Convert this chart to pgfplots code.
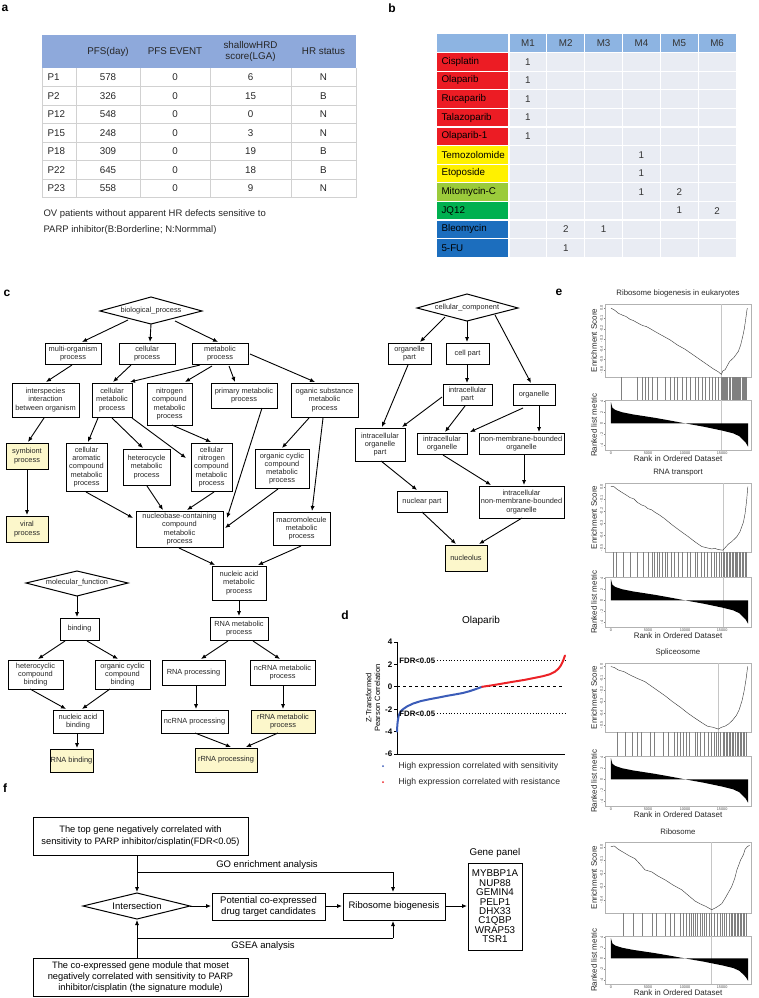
\documentclass[border=0pt]{standalone}
\usepackage{fontspec}
\setmainfont{Liberation Sans}
\usepackage{pgfplots}
\pgfplotsset{compat=1.18}
\usetikzlibrary{arrows.meta}
\definecolor{hdrA}{HTML}{8EA9DB}
\definecolor{hdrB}{HTML}{8DB4E2}
\definecolor{cellB}{HTML}{E9ECF3}
\definecolor{dred}{HTML}{EC1C24}
\definecolor{dyel}{HTML}{FFF100}
\definecolor{dlgr}{HTML}{9BCB3B}
\definecolor{dgrn}{HTML}{00B050}
\definecolor{dblu}{HTML}{1C6EBE}
\definecolor{goy}{HTML}{FCF7CB}
\definecolor{zblue}{HTML}{3B5CB8}
\definecolor{zred}{HTML}{EC2227}
\newcommand{\fs}[2]{\fontsize{#1}{#2}\selectfont}
\newcommand{\gofont}{\fs{7.4}{8.2}}
\newcommand{\gobox}[6][white]{%
 \draw[line width=1pt, fill=#1] (#2,-#3) rectangle (#4,-#5);
 \node[font=\gofont, align=center, inner sep=0pt, text=black!85] at ({(#2+#4)/2},{-(#3+#5)/2}) {#6};}
\newcommand{\arr}[4]{\draw[-{Latex[length=5pt,width=4.2pt]}, line width=0.9pt] (#1,-#2) -- (#3,-#4);}
\pgfplotsset{every axis/.append style={/pgf/number format/assume math mode=true},
 esax/.style={scale only axis, width=146pt, xmin=-800, xmax=18900, anchor=north west,
   axis line style={black!30, line width=0.5pt}, xtick=\empty, tick style={black!50, line width=0.3pt},
   major tick length=1.2pt, tick align=outside, tick pos=left,
   yticklabel style={rotate=90, anchor=south, font=\fs{3.8}{4}, text=black!70, inner sep=0.6pt},
   ylabel style={at={(axis description cs:-0.075,0.5)}, anchor=center, font=\fs{8}{9}, text=black!85},
   title style={at={(axis description cs:0.5,1)}, anchor=south, font=\fs{7.8}{9}, text=black!85, inner sep=1pt}},
 hitax/.style={scale only axis, width=146pt, xmin=-800, xmax=18900, ymin=0, ymax=1, anchor=north west, hide axis},
 rkax/.style={scale only axis, width=146pt, xmin=-800, xmax=18900, anchor=north west, height=50pt,
   ymin=-4.8, ymax=4.2, ytick={-4,-2,0,2,4}, yticklabels={-4,-2,0,2,4},
   xtick={0,5000,10000,15000}, xticklabels={0,5000,10000,15000}, scaled x ticks=false,
   axis line style={black!30, line width=0.5pt}, tick style={black!50, line width=0.3pt},
   major tick length=1.2pt, tick align=outside, tick pos=left,
   yticklabel style={rotate=90, anchor=south, font=\fs{3.8}{4}, text=black!70, inner sep=0.6pt},
   xticklabel style={font=\fs{3.8}{4}, text=black!70, inner sep=0.6pt},
   ylabel={Ranked list metric}, xlabel={Rank in Ordered Dataset},
   ylabel style={at={(axis description cs:-0.075,0.5)}, anchor=center, font=\fs{8}{9}, text=black!85},
   xlabel style={at={(axis description cs:0.5,-0.17)}, anchor=center, font=\fs{8}{9}, text=black!85}},
 hitln/.style={ycomb, black!50, line width=0.35pt},
}
\begin{document}
\begin{tikzpicture}[x=1pt,y=1pt]
\path[use as bounding box] (0,0) rectangle (758,-998);
% panel letters
\begin{scope}[font=\bfseries\fs{12}{12}]
\node at (5,-8) {a};
\node at (392,-8) {b};
\node at (7,-293) {c};
\node at (345,-615) {d};
\node at (559,-292) {e};
\node at (5,-788) {f};
\end{scope}
% ---------------- panel a ----------------
\fill[hdrA] (42,-35) rectangle (356,-68);
\foreach \yy in {86.5,105,123.5,142,160.5,179,197.5} \draw[black!18, line width=0.6pt] (42,-\yy) -- (356,-\yy);
\foreach \xx in {42,76,140,210,291,356} \draw[black!18, line width=0.6pt] (\xx,-68) -- (\xx,-197.5);
\begin{scope}[font=\fs{9.8}{11}, text=black!85]
\node at (108,-51.5) {PFS(day)};
\node at (175,-51.5) {PFS EVENT};
\node[align=center] at (250.5,-51.5) {shallowHRD\\score(LGA)};
\node at (323.5,-51.5) {HR status};
\foreach \qp/\qa/\qb/\qc/\qd [count=\i] in {P1/578/0/6/N,P2/326/0/15/B,P12/548/0/0/N,P15/248/0/3/N,P18/309/0/19/B,P22/645/0/18/B,P23/558/0/9/N}{
  \pgfmathsetmacro{\yy}{-68-18.5*\i+9.25}
  \node[anchor=west] at (44,\yy) {\qp};
  \node at (108,\yy) {\qa};
  \node at (175,\yy) {\qb};
  \node at (250.5,\yy) {\qc};
  \node at (323.5,\yy) {\qd};
}
\end{scope}
\node[anchor=west, font=\fs{9.5}{11}, text=black!85] at (40,-214) {OV patients without apparent HR defects sensitive to};
\node[anchor=west, font=\fs{9.5}{11}, text=black!85] at (40,-230) {PARP inhibitor(B:Borderline; N:Normmal)};
% ---------------- panel b ----------------
\fill[hdrB] (437,-34.5) rectangle (736,-52.5);
\foreach \dn/\dc [count=\i] in {Cisplatin/dred,Olaparib/dred,Rucaparib/dred,Talazoparib/dred,Olaparib-1/dred,Temozolomide/dyel,Etoposide/dyel,Mitomycin-C/dlgr,JQ12/dgrn,Bleomycin/dblu,5-FU/dblu}{
  \pgfmathsetmacro{\ya}{-52.5-18.6*(\i-1)}
  \pgfmathsetmacro{\yb}{\ya-18.6}
  \pgfmathsetmacro{\ym}{\ya-9.3}
  \fill[\dc] (437,\ya) rectangle (509,\yb);
  \fill[cellB] (509,\ya) rectangle (736,\yb);
  \node[anchor=west, font=\fs{9.8}{11}] at (438,\ym) {\dn};
}
\foreach \xx in {509,546.8,584.7,622.5,660.3,698.2} \draw[white, line width=1.2pt] (\xx,-34.5) -- (\xx,-257.1);
\foreach \k in {0,...,10} {\pgfmathsetmacro{\yy}{-52.5-18.6*\k} \draw[white, line width=1.2pt] (437,\yy) -- (736,\yy);}
\begin{scope}[font=\fs{9.8}{11}, text=black!80]
\foreach \k in {1,...,6} {\pgfmathsetmacro{\xx}{509+37.83*(\k-0.5)} \node at (\xx,-43.5) {M\k};}
\foreach \mc/\mr/\mt in {1/1/1,1/2/1,1/3/1,1/4/1,1/5/1,4/6/1,4/7/1,4/8/1,5/8/2,5/9/1,6/9/2,2/10/2,3/10/1,2/11/1}{
  \pgfmathsetmacro{\xx}{509+37.83*(\mc-0.5)}
  \pgfmathsetmacro{\yy}{-52.5-18.6*(\mr-0.5)}
  \node at (\xx,\yy) {\mt};
}
\end{scope}
% ---------------- panel c ----------------
\draw[line width=1pt, fill=white] (100,-311) -- (151,-297) -- (202,-311) -- (151,-324) -- cycle;
\node[font=\gofont, text=black!85] at (151,-311) {biological\_process};
\gobox{45}{343}{101}{364}{multi-organism\\process}
\gobox{119}{343}{175}{364}{cellular\\process}
\gobox{192}{343}{248}{364}{metabolic\\process}
\gobox{12}{383}{79}{417}{interspecies\\interaction\\between organism}
\gobox{92}{383}{132}{417}{cellular\\metabolic\\process}
\gobox{147}{383}{192}{425}{nitrogen\\compound\\metabolic\\process}
\gobox{211}{383}{277}{408}{primary metabolic\\process}
\gobox{291}{383}{358}{417}{oganic substance\\metabolic\\process}
\gobox[goy]{6}{443}{48}{469}{symbiont\\process}
\gobox[goy]{6}{516}{48}{542}{viral\\process}
\gobox{66}{443}{107}{491}{cellular\\aromatic\\compound\\metabolic\\process}
\gobox{123}{449}{170}{485}{heterocycle\\metabolic\\process}
\gobox{191}{443}{232}{491}{cellular\\nitrogen\\compound\\metabolic\\process}
\gobox{255}{449}{309}{488}{organic cyclic\\compound\\metabolic\\process}
\gobox{136}{511}{223}{547}{nucleobase-containing\\compound\\metabolic\\process}
\gobox{273}{512}{330}{545}{macromolecule\\metabolic\\process}
\gobox{212}{566}{266}{600}{nucleic acid\\metabolic\\process}
\gobox{210}{617}{268}{640}{RNA metabolic\\process}
\gobox{162}{660}{225}{685}{RNA processing}
\gobox{250}{660}{315}{685}{ncRNA metabolic\\process}
\gobox{161}{710}{228}{733}{ncRNA processing}
\gobox[goy]{251}{710}{315}{733}{rRNA metabolic\\process}
\gobox[goy]{195}{748}{257}{772}{rRNA processing}
\arr{128}{320}{82}{342}
\arr{151}{324}{150}{342}
\arr{175}{321}{218}{342}
\arr{72}{365}{46}{382}
\arr{131}{365}{113}{382}
\arr{200}{365}{130}{382}
\arr{212}{366}{185}{382}
\arr{229}{366}{235}{382}
\arr{250}{354}{315}{382}
\arr{44}{418}{28}{442}
\arr{27}{469}{27}{515}
\arr{98}{418}{88}{442}
\arr{112}{418}{143}{448}
\arr{132}{418}{186}{458}
\arr{172}{425}{211}{442}
\arr{262}{408}{227}{518}
\arr{309}{418}{282}{448}
\arr{323}{418}{312}{511}
\arr{86}{492}{133}{518}
\arr{147}{486}{163}{510}
\arr{214}{492}{187}{510}
\arr{278}{489}{225}{528}
\arr{179}{548}{215}{565}
\arr{301}{546}{258}{565}
\arr{239}{600}{239}{616}
\arr{228}{641}{201}{659}
\arr{253}{641}{280}{659}
\arr{196}{685}{196}{709}
\arr{283}{685}{283}{709}
\arr{195}{733}{231}{747}
\arr{278}{733}{246}{747}
% molecular function
\draw[line width=1pt, fill=white] (26,-583) -- (77,-571) -- (128,-583) -- (77,-596) -- cycle;
\node[font=\gofont, text=black!85] at (77,-583) {molecular\_function};
\gobox{60}{618}{99}{640}{binding}
\gobox{8}{660}{63}{689}{heterocyclic\\compound\\binding}
\gobox{95}{660}{150}{689}{organic cyclic\\compound\\binding}
\gobox{53}{710}{103}{733}{nucleic acid\\binding}
\gobox[goy]{50}{749}{93}{772}{RNA binding}
\arr{77}{596}{77}{617}
\arr{65}{641}{38}{659}
\arr{87}{641}{118}{659}
\arr{30}{689}{66}{709}
\arr{110}{689}{82}{709}
\arr{77}{733}{77}{748}
% cellular component
\draw[line width=1pt, fill=white] (417,-308) -- (467,-294) -- (518,-308) -- (467,-321) -- cycle;
\node[font=\gofont, text=black!85] at (467,-308) {cellular\_component};
\gobox{388}{343}{431}{364}{organelle\\part}
\gobox{446}{343}{489}{364}{cell part}
\gobox{443}{384}{492}{405}{intracellular\\part}
\gobox{513}{384}{555}{405}{organelle}
\gobox{355}{428}{405}{461}{intracellular\\organelle\\part}
\gobox{417}{433}{467}{454}{intracellular\\organelle}
\gobox{479}{433}{564}{454}{non-membrane-bounded\\organelle}
\gobox{397}{491}{447}{512}{nuclear part}
\gobox{479}{486}{564}{518}{intracellular\\non-membrane-bounded\\organelle}
\gobox[goy]{445}{545}{487}{571}{nucleolus}
\arr{445}{317}{420}{342}
\arr{467}{321}{467}{342}
\arr{495}{315}{531}{383}
\arr{467}{364}{467}{383}
\arr{408}{365}{382}{427}
\arr{442}{397}{402}{427}
\arr{465}{406}{445}{432}
\arr{523}{408}{470}{432}
\arr{539}{406}{539}{432}
\arr{381}{461}{417}{490}
\arr{443}{455}{491}{485}
\arr{524}{455}{524}{485}
\arr{422}{512}{456}{544}
\arr{522}{518}{479}{544}
% ---------------- panel d ----------------
\begin{axis}[at={(397pt,-754pt)}, anchor=south west, scale only axis, width=168pt, height=112pt,
  xmin=0, xmax=1000, ymin=-6, ymax=4, axis x line=bottom, axis y line=left,
  axis line style={-, line width=0.9pt}, xtick=\empty, ytick={-6,-4,-2,0,2,4},
  yticklabels={-6,-4,-2,0,2,4}, tick align=outside, major tick length=3pt,
  tick style={line width=0.9pt, black}, yticklabel style={font=\bfseries\fs{8}{9}, inner sep=1.5pt},
  ylabel={Z-Transformed\\Pearson Correlation},
  ylabel style={align=center, font=\fs{7.6}{8.8}, at={(axis description cs:-0.143,0.5)}, anchor=center},
  title={Olaparib}, title style={at={(axis description cs:0.5,1.134)}, anchor=center, font=\fs{10}{11}},
  clip=false]
\addplot[black, dashed, line width=1pt] coordinates {(0,0)(1000,0)};
\addplot[black, dotted, line width=0.9pt] coordinates {(238,2.35)(1000,2.35)};
\addplot[black, dotted, line width=0.9pt] coordinates {(238,-2.4)(1000,-2.4)};
\addplot[zblue, line width=2pt, line cap=round] coordinates {(0,-4.0)(2,-3.4)(5,-3.0)(10,-2.6)(18,-2.3)(28,-2.1)(40,-1.95)(60,-1.75)(95,-1.5)(140,-1.28)(196,-1.1)(250,-0.95)(300,-0.8)(350,-0.67)(393,-0.55)(430,-0.4)(470,-0.2)(506,0)};
\addplot[zred, line width=2pt, line cap=round] coordinates {(506,0)(560,0.12)(620,0.27)(690,0.45)(760,0.62)(820,0.8)(869,0.95)(910,1.12)(940,1.35)(960,1.6)(975,1.9)(988,2.3)(1000,2.8)};
\node[anchor=west, font=\bfseries\fs{7.8}{8}, inner sep=0.5pt] at (axis cs:10,2.35) {FDR<0.05};
\node[anchor=west, font=\bfseries\fs{7.8}{8}, inner sep=0.5pt] at (axis cs:10,-2.4) {FDR<0.05};
\end{axis}
\fill[zblue] (383,-766) circle (1pt);
\node[anchor=west, font=\fs{8.6}{10}, text=black!85] at (395,-766) {High expression correlated with sensitivity};
\fill[zred] (383,-782) circle (1pt);
\node[anchor=west, font=\fs{8.6}{10}, text=black!85] at (395,-782) {High expression correlated with resistance};
% ---------------- panel e ----------------
% block 1
\begin{axis}[esax, at={(605pt,-304pt)}, height=73pt, ymin=-0.67, ymax=0.04,
  ytick={0,-0.1,-0.2,-0.3,-0.4,-0.5,-0.6}, yticklabels={0.0,-0.1,-0.2,-0.3,-0.4,-0.5,-0.6},
  ylabel={Enrichment Score}, title={Ribosome biogenesis in eukaryotes}]
\addplot[gray!45, line width=0.5pt] coordinates {(14900,-0.67)(14900,0.04)};
\addplot[black!75, line width=0.45pt] coordinates {(0,0)(500,-0.02)(1000,-0.05)(1600,-0.07)(2000,-0.08)(2600,-0.11)(3000,-0.12)(3500,-0.14)(4000,-0.16)(4300,-0.17)(4800,-0.18)(5300,-0.2)(6000,-0.23)(7000,-0.27)(8000,-0.31)(9000,-0.36)(10000,-0.40)(11000,-0.45)(12000,-0.5)(13000,-0.55)(13800,-0.59)(14500,-0.62)(14900,-0.645)(15100,-0.61)(15400,-0.6)(15700,-0.56)(16000,-0.52)(16300,-0.50)(16600,-0.48)(16900,-0.45)(17200,-0.42)(17500,-0.36)(17800,-0.27)(18000,-0.2)(18200,-0.1)(18350,-0.02)(18400,0.0)};
\end{axis}
\begin{axis}[hitax, at={(605pt,-377pt)}, height=23pt]
\addplot[hitln] coordinates {(1400,1)(3500,1)(4150,1)(4600,1)(5050,1)(5600,1)(6200,1)(7300,1)(8000,1)(8600,1)(9000,1)(9600,1)(10200,1)(10700,1)(11400,1)(11800,1)(12300,1)(12700,1)(13200,1)(13600,1)(14100,1)(14500,1)(14900,1)(15000,1)(15150,1)(15300,1)(15400,1)(15600,1)(15750,1)(15900,1)(16000,1)(16150,1)(16300,1)(16450,1)(16600,1)(16700,1)(16900,1)(17000,1)(17150,1)(17300,1)(17400,1)(17500,1)(17650,1)(17750,1)(17900,1)(18000,1)(18100,1)(18250,1)};
\end{axis}
\begin{axis}[rkax, at={(605pt,-400pt)}]
\addplot[gray!45, line width=0.5pt] coordinates {(14900,-4.8)(14900,4.2)};
\addplot[fill=black, draw=none] coordinates {(0,0)(0,3.8)(200,2.8)(600,2.4)(1500,2.0)(3000,1.6)(5900,1.0)(8000,0.5)(10000,0)(12500,-0.6)(15000,-1.3)(16500,-1.8)(17300,-2.3)(17700,-2.8)(18200,-3.5)(18500,-4.2)(18500,0)};
\end{axis}
% block 2
\begin{axis}[esax, at={(605pt,-483pt)}, height=69pt, ymin=-0.535, ymax=0.03,
  ytick={0,-0.1,-0.2,-0.3,-0.4,-0.5}, yticklabels={0.0,-0.1,-0.2,-0.3,-0.4,-0.5},
  ylabel={Enrichment Score}, title={RNA transport}]
\addplot[gray!45, line width=0.5pt] coordinates {(15100,-0.535)(15100,0.03)};
\addplot[black!75, line width=0.45pt] coordinates {(0,0)(400,0.0)(800,-0.02)(1300,-0.04)(2100,-0.07)(2600,-0.09)(3100,-0.1)(3600,-0.13)(4150,-0.15)(4600,-0.16)(5000,-0.18)(5500,-0.19)(5950,-0.21)(6500,-0.23)(7200,-0.26)(8200,-0.31)(9300,-0.36)(10450,-0.41)(11300,-0.45)(12250,-0.49)(12900,-0.50)(13600,-0.51)(14000,-0.505)(14500,-0.515)(15100,-0.52)(15400,-0.5)(15850,-0.47)(16300,-0.45)(16980,-0.41)(17400,-0.37)(17880,-0.29)(18100,-0.22)(18300,-0.12)(18470,0.0)};
\end{axis}
\begin{axis}[hitax, at={(605pt,-552pt)}, height=25pt]
\addplot[hitln] coordinates {(250,1)(700,1)(1600,1)(2600,1)(3600,1)(4300,1)(5000,1)(5600,1)(5900,1)(6200,1)(6500,1)(6900,1)(7300,1)(7600,1)(8100,1)(8600,1)(9100,1)(9600,1)(10300,1)(10700,1)(11300,1)(11700,1)(12200,1)(12600,1)(13000,1)(13500,1)(13900,1)(14200,1)(14600,1)(14900,1)(15100,1)(15300,1)(15500,1)(15700,1)(15900,1)(16100,1)(16300,1)(16500,1)(16700,1)(16900,1)(17100,1)(17300,1)(17500,1)(17700,1)(17900,1)(18100,1)(18300,1)};
\end{axis}
\begin{axis}[rkax, at={(605pt,-577pt)}]
\addplot[gray!45, line width=0.5pt] coordinates {(15100,-4.8)(15100,4.2)};
\addplot[fill=black, draw=none] coordinates {(0,0)(0,3.8)(200,2.8)(600,2.4)(1500,2.0)(3000,1.6)(5900,1.0)(8000,0.5)(10000,0)(12500,-0.6)(15000,-1.3)(16500,-1.8)(17300,-2.3)(17700,-2.8)(18200,-3.5)(18500,-4.2)(18500,0)};
\end{axis}
% block 3
\begin{axis}[esax, at={(605pt,-663pt)}, height=69pt, ymin=-0.56, ymax=0.03,
  ytick={0,-0.1,-0.2,-0.3,-0.4,-0.5}, yticklabels={0.0,-0.1,-0.2,-0.3,-0.4,-0.5},
  ylabel={Enrichment Score}, title={Spliceosome}]
\addplot[gray!45, line width=0.5pt] coordinates {(14500,-0.56)(14500,0.03)};
\addplot[black!75, line width=0.45pt] coordinates {(0,0)(500,-0.01)(1000,-0.03)(1800,-0.045)(2500,-0.07)(3500,-0.1)(4600,-0.13)(5500,-0.17)(6400,-0.21)(7300,-0.25)(8300,-0.3)(9400,-0.35)(10400,-0.4)(11300,-0.44)(12250,-0.48)(13000,-0.51)(13800,-0.52)(14500,-0.535)(14900,-0.52)(15400,-0.51)(15900,-0.49)(16400,-0.46)(16900,-0.42)(17300,-0.37)(17700,-0.29)(18000,-0.2)(18250,-0.1)(18450,0.0)};
\end{axis}
\begin{axis}[hitax, at={(605pt,-732pt)}, height=24pt]
\addplot[hitln] coordinates {(800,1)(1900,1)(2800,1)(3500,1)(4100,1)(5300,1)(5900,1)(7100,1)(7700,1)(8500,1)(8900,1)(9300,1)(9700,1)(10100,1)(10600,1)(11300,1)(11700,1)(12100,1)(12600,1)(13100,1)(13500,1)(13900,1)(14200,1)(14500,1)(14800,1)(15100,1)(15300,1)(15500,1)(15700,1)(15900,1)(16100,1)(16300,1)(16500,1)(16700,1)(16800,1)(17000,1)(17200,1)(17400,1)(17600,1)(17800,1)(18000,1)(18200,1)};
\end{axis}
\begin{axis}[rkax, at={(605pt,-756pt)}]
\addplot[fill=black, draw=none] coordinates {(0,0)(0,3.8)(200,2.8)(600,2.4)(1500,2.0)(3000,1.6)(5900,1.0)(8000,0.5)(10000,0)(12500,-0.6)(15000,-1.3)(16500,-1.8)(17300,-2.3)(17700,-2.8)(18200,-3.5)(18500,-4.2)(18500,0)};
\end{axis}
% block 4
\begin{axis}[esax, at={(605pt,-842pt)}, height=71pt, ymin=-0.5, ymax=0.035,
  ytick={0,-0.1,-0.2,-0.3,-0.4}, yticklabels={0.0,-0.1,-0.2,-0.3,-0.4},
  ylabel={Enrichment Score}, title={Ribosome}]
\addplot[gray!45, line width=0.5pt] coordinates {(13600,-0.5)(13600,0.035)};
\addplot[black!75, line width=0.45pt] coordinates {(0,0)(450,0.005)(1000,-0.02)(1900,-0.05)(2500,-0.07)(3240,-0.09)(3900,-0.13)(4600,-0.175)(5500,-0.19)(6300,-0.22)(7300,-0.25)(8400,-0.29)(9550,-0.325)(10500,-0.37)(11350,-0.41)(12000,-0.43)(12800,-0.45)(13600,-0.475)(14300,-0.455)(14950,-0.43)(15500,-0.38)(16300,-0.3)(16700,-0.24)(17000,-0.175)(17500,-0.1)(17880,-0.06)(18100,-0.02)(18400,0.0)(18700,0.01)};
\end{axis}
\begin{axis}[hitax, at={(605pt,-913pt)}, height=23pt]
\addplot[hitln] coordinates {(1700,1)(3000,1)(4200,1)(5500,1)(6100,1)(7300,1)(8000,1)(8600,1)(9300,1)(9800,1)(10100,1)(10500,1)(10800,1)(11100,1)(11400,1)(11700,1)(12000,1)(12300,1)(12600,1)(12900,1)(13200,1)(13500,1)(13900,1)(14300,1)(14700,1)(15000,1)(15300,1)(15600,1)(15900,1)(16200,1)(16400,1)(16600,1)(16800,1)(17000,1)(17200,1)(17400,1)(17600,1)(17800,1)(18000,1)(18200,1)};
\end{axis}
\begin{axis}[rkax, at={(605pt,-936pt)}, height=48pt, xlabel style={at={(axis description cs:0.5,-0.185)}}]
\addplot[gray!45, line width=0.5pt] coordinates {(13600,-4.8)(13600,4.2)};
\addplot[fill=black, draw=none] coordinates {(0,0)(0,3.8)(200,2.8)(600,2.4)(1500,2.0)(3000,1.6)(5900,1.0)(8000,0.5)(10000,0)(12500,-0.6)(15000,-1.3)(16500,-1.8)(17300,-2.3)(17700,-2.8)(18200,-3.5)(18500,-4.2)(18500,0)};
\end{axis}
% ---------------- panel f ----------------
\begin{scope}[line width=1pt]
\draw (33,-817) rectangle (248,-855);
\node[align=center, font=\fs{9.3}{12}] at (140.5,-836) {The top gene negatively correlated with\\sensitivity to PARP inhibitor/cisplatin(FDR<0.05)};
\draw (83,-906) -- (137,-893) -- (190,-906) -- (137,-919) -- cycle;
\node[font=\fs{9.5}{11}] at (137,-906) {Intersection};
\draw (212,-893) rectangle (325,-920);
\node[align=center, font=\fs{9.5}{10.5}] at (268.5,-906.5) {Potential co-expressed\\drug target candidates};
\draw (343,-893) rectangle (445,-920);
\node[font=\fs{9.5}{11}] at (394,-906.5) {Ribosome biogenesis};
\node[font=\fs{9.8}{11}] at (495,-853) {Gene panel};
\draw (468,-863) rectangle (522,-950);
\node[align=center, font=\fs{9.8}{9.4}] at (495,-906.5) {MYBBP1A\\NUP88\\GEMIN4\\PELP1\\DHX33\\C1QBP\\WRAP53\\TSR1};
\draw (33,-958) rectangle (248,-996);
\node[align=center, font=\fs{9.3}{11}] at (140.5,-977) {The co-expressed gene module that moset\\negatively correlated with sensitivity to PARP\\inhibitor/cisplatin (the signature module)};
\node[font=\fs{9.5}{11}] at (267,-865) {GO enrichment analysis};
\node[font=\fs{9.5}{11}] at (263,-946) {GSEA analysis};
\end{scope}
\arr{137}{855}{137}{892}
\draw[line width=0.9pt] (137,-872) -- (393,-872);
\arr{393}{872}{393}{892}
\arr{190}{906}{211}{906}
\arr{325}{906}{342}{906}
\arr{445}{906}{467}{906}
\arr{137}{958}{137}{920}
\draw[line width=0.9pt] (137,-938) -- (393,-938);
\arr{393}{938}{393}{921}
\end{tikzpicture}
\end{document}
